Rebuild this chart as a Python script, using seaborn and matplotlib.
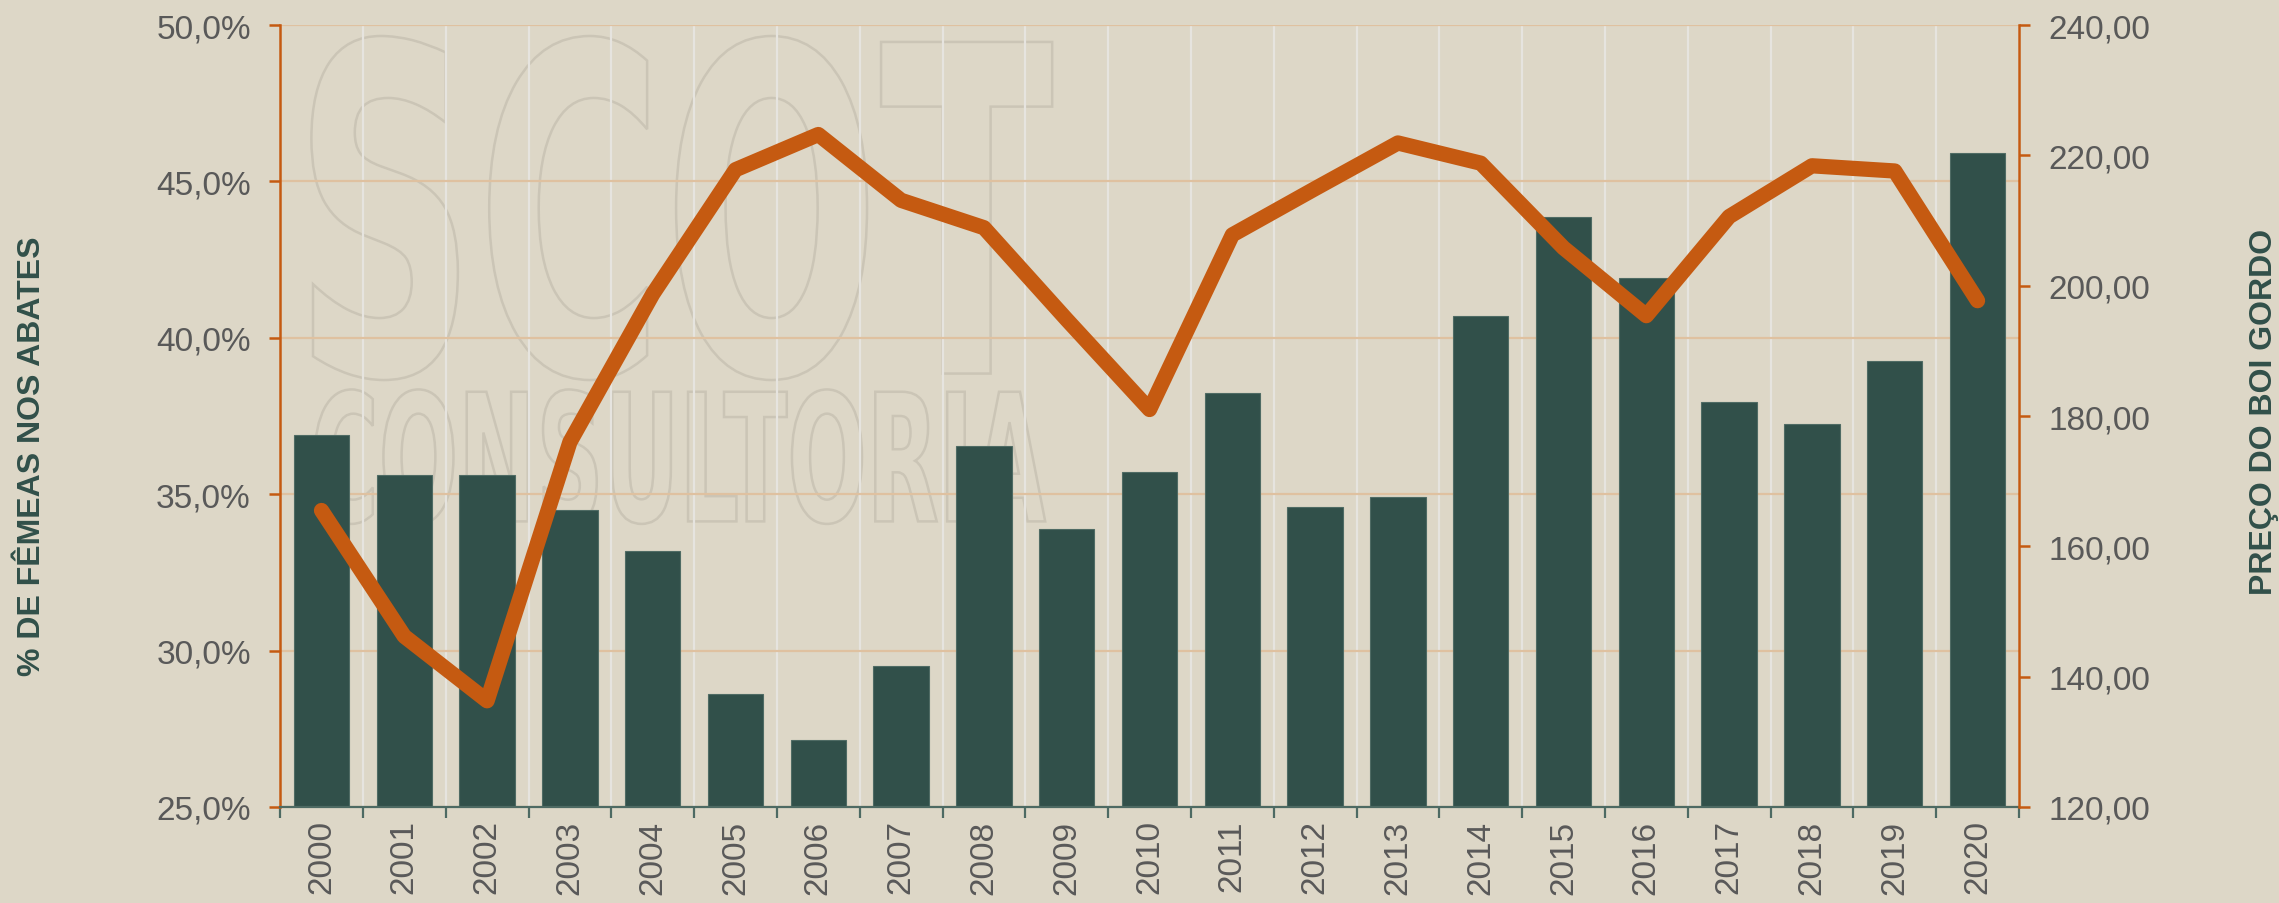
import matplotlib
matplotlib.use("Agg")
import matplotlib.pyplot as plt
import numpy as np
import seaborn as sns
from matplotlib.font_manager import FontProperties
from matplotlib.patches import PathPatch
from matplotlib.textpath import TextPath
from matplotlib.ticker import FuncFormatter
from matplotlib.transforms import Affine2D

sns.set_theme(style="white")
plt.rcParams["font.family"] = ["Liberation Sans", "DejaVu Sans"]

# data
years = [str(y) for y in range(2000, 2021)]
femeas_pct = [36.9, 35.6, 35.6, 34.5, 33.2, 28.6, 27.15, 29.5, 36.55, 33.9, 35.7,
              38.25, 34.6, 34.9, 40.7, 43.85, 41.9, 37.95, 37.25, 39.25, 45.9]
preco_boi = [165.5, 146.2, 136.3, 176.0, 198.7, 217.8, 223.2, 213.1, 208.9, 194.8, 181.0,
             207.8, 214.9, 221.9, 218.8, 205.8, 195.4, 210.6, 218.4, 217.6, 197.7]
left_ticks = [25, 30, 35, 40, 45, 50]
right_ticks = [120, 140, 160, 180, 200, 220, 240]

BG = "#DDD7C7"
GREEN = "#31504A"
ORANGE = "#C55A11"
GREY_TXT = "#595959"


def pct_fmt(value, position):
    return f"{value:.1f}%".replace(".", ",")


def price_fmt(value, position):
    return f"{value:.2f}".replace(".", ",")


def add_watermark(ax, text, x0, y0, x1, y1):
    """Outline-only text squeezed into a box given in axes coords."""
    tp = TextPath((0, 0), text, size=100,
                  prop=FontProperties(family="DejaVu Sans", weight="bold"))
    ext = tp.get_extents()
    tr = (Affine2D().translate(-ext.x0, -ext.y0)
          .scale((x1 - x0) / ext.width, (y1 - y0) / ext.height)
          .translate(x0, y0) + ax.transAxes)
    ax.add_patch(PathPatch(tp, transform=tr, facecolor="none",
                           edgecolor="#cbc5b6", lw=1.8, zorder=0.4))


fig = plt.figure(figsize=(22.79, 9.04), dpi=100, facecolor=BG)
ax = fig.add_axes([0.1229, 0.1062, 0.763, 0.865])
ax.set_facecolor(BG)
ax.set_axisbelow(True)

add_watermark(ax, "SCOT", 0.018, 0.546, 0.444, 0.986)
add_watermark(ax, "CONSULTORIA", 0.02, 0.362, 0.44, 0.534)

sns.barplot(x=years, y=femeas_pct, color=GREEN, saturation=1, width=0.67,
            edgecolor="#4f6b64", linewidth=0.8, zorder=2, ax=ax)

ax.set_xlim(-0.5, len(years) - 0.5)
ax.set_ylim(25, 50)
ax.set_yticks(left_ticks)
ax.yaxis.set_major_formatter(FuncFormatter(pct_fmt))
ax.set_xticks(range(len(years)))
ax.set_xticklabels(years, rotation=90)
ax.set_xticks(np.arange(-0.5, len(years), 1), minor=True)

ax.grid(True, which="major", axis="y", color="#dfc1a0", lw=1.6)
ax.grid(True, which="minor", axis="x", color="#e6e4df", lw=1.6)
ax.grid(False, which="major", axis="x")

ax.tick_params(axis="x", which="major", length=0, pad=9, labelsize=24, labelcolor=GREY_TXT)
ax.tick_params(axis="x", which="minor", length=8, width=1.6, color="#4d6a63", bottom=True)
ax.tick_params(axis="y", length=8, width=1.8, color=ORANGE, labelsize=24,
               labelcolor=GREY_TXT, pad=13, left=True)

for side in ["top", "right"]:
    ax.spines[side].set_visible(False)
ax.spines["left"].set_color(ORANGE)
ax.spines["left"].set_linewidth(1.8)
ax.spines["bottom"].set_color("#4d6a63")
ax.spines["bottom"].set_linewidth(1.6)
ax.set_xlabel("")
ax.set_ylabel("")

ax2 = ax.twinx()
sns.lineplot(x=np.arange(len(years)), y=preco_boi, color=ORANGE, lw=11,
             solid_capstyle="round", solid_joinstyle="round", ax=ax2, zorder=3)
ax2.set_ylim(120, 240)
ax2.set_yticks(right_ticks)
ax2.yaxis.set_major_formatter(FuncFormatter(price_fmt))
ax2.tick_params(axis="y", length=8, width=1.8, color=ORANGE, labelsize=24,
                labelcolor=GREY_TXT, pad=13, right=True)
ax2.grid(False)
for side in ["top", "left", "bottom"]:
    ax2.spines[side].set_visible(False)
ax2.spines["right"].set_color(ORANGE)
ax2.spines["right"].set_linewidth(1.8)
ax2.set_xlim(-0.5, len(years) - 0.5)

fig.text(0.014, 0.4956, "% DE FÊMEAS NOS ABATES", rotation=90, ha="center", va="center",
         fontsize=23, fontweight="bold", color=GREEN)
fig.text(0.9934, 0.544, "PREÇO DO BOI GORDO", rotation=90, ha="center", va="center",
         fontsize=23, fontweight="bold", color=GREEN)

fig.savefig("out.png", dpi=100, facecolor=BG)
